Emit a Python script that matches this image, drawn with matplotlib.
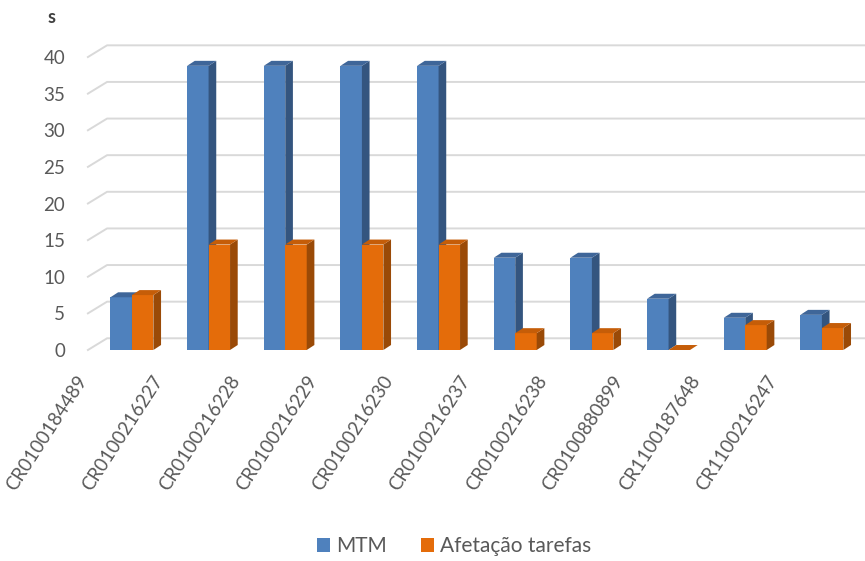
import numpy as np
import matplotlib
matplotlib.use('Agg')
import matplotlib.pyplot as plt
from matplotlib.patches import Polygon, Patch

plt.rcParams['font.family'] = ['Lato', 'DejaVu Sans']

categories = ['CR0100184489', 'CR0100216227', 'CR0100216228', 'CR0100216229',
              'CR0100216230', 'CR0100216237', 'CR0100216238', 'CR0100880899',
              'CR1100187648', 'CR1100216247']
mtm = [7.2, 38.8, 38.8, 38.8, 38.8, 12.6, 12.6, 7.0, 4.4, 4.8]
afetacao = [7.5, 14.4, 14.4, 14.4, 14.4, 2.3, 2.3, 0.0, 3.4, 3.0]
yticks = [0, 5, 10, 15, 20, 25, 30, 35, 40]

# face colours: front, side, top
blue = ('#4f81bd', '#34557f', '#3f6699')
orange = ('#e46c0a', '#9a4a07', '#c55d08')
grid_col = '#d9d9d9'
text_col = '#595959'

width = 0.28      # bar width in category units
ddx, ddy = 0.10, 0.68   # bar depth offset
wall_dx, wall_dy = 0.25, 1.6  # back wall offset

fig = plt.figure(figsize=(8.65, 5.61), dpi=100)
ax = fig.add_axes([0.0816, 0.350, 0.9173, 0.5875])
ax.set_xlim(-0.8, 9.55)
ax.set_ylim(-2, 43)

x = np.arange(len(categories))

# back wall gridlines with the short floor diagonals
x0 = -0.574
for v in yticks:
    ax.plot([x0, x0 + wall_dx, 9.6], [v, v + wall_dy, v + wall_dy],
            color=grid_col, lw=1.4, zorder=1, clip_on=False)


def bar3d(left, h, cols, z):
    right = left + width
    ax.add_patch(Polygon([(left, 0), (right, 0), (right, h), (left, h)],
                         closed=True, fc=cols[0], ec='none', zorder=z))
    ax.add_patch(Polygon([(right, 0), (right + ddx, ddy), (right + ddx, h + ddy), (right, h)],
                         closed=True, fc=cols[1], ec='none', zorder=z))
    ax.add_patch(Polygon([(left, h), (right, h), (right + ddx, h + ddy), (left + ddx, h + ddy)],
                         closed=True, fc=cols[2], ec='none', zorder=z))


for i in range(len(categories)):
    bar3d(x[i] - width, mtm[i], blue, 3 + 2 * i)
    bar3d(x[i], afetacao[i], orange, 4 + 2 * i)

ax.set_yticks(yticks)
ax.set_yticklabels([str(v) for v in yticks])
ax.set_xticks(x - 0.64)
ax.set_xticklabels(categories, rotation=57, ha='right', va='center',
                   rotation_mode='anchor')
ax.tick_params(axis='both', length=0, colors=text_col, labelsize=13.5)
ax.tick_params(axis='y', pad=4)
ax.tick_params(axis='x', pad=9)
for s in ax.spines.values():
    s.set_visible(False)

fig.text(0.060, 0.968, 's', fontsize=13, fontweight='bold', color='#404040',
         ha='center', va='center')

handles = [Patch(fc=blue[0], label='MTM'), Patch(fc=orange[0], label='Afetação tarefas')]
fig.legend(handles=handles, loc='center', bbox_to_anchor=(0.525, 0.026), ncol=2,
           frameon=False, fontsize=15, labelcolor=text_col, handlelength=0.65,
           handleheight=0.65, handletextpad=0.3, columnspacing=1.6)

fig.savefig('out.png', dpi=100)
